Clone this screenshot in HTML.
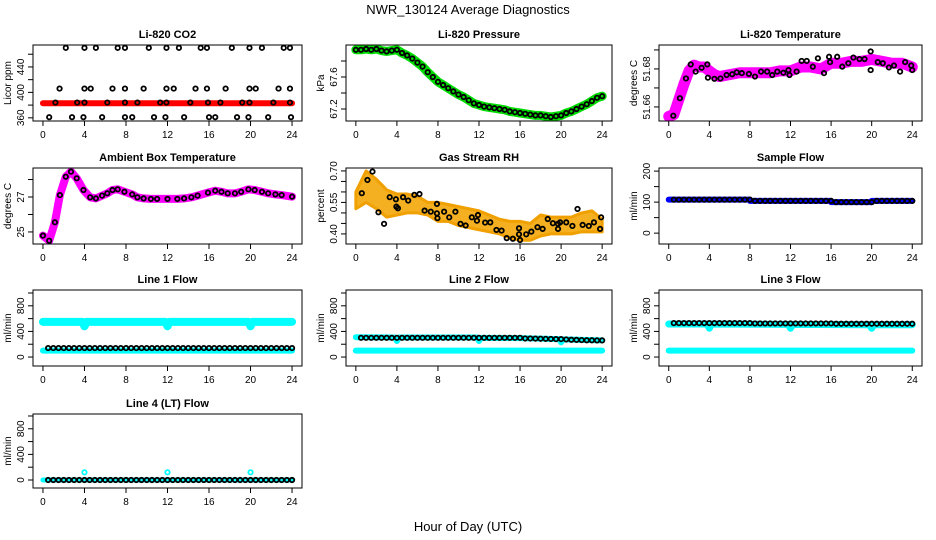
<!DOCTYPE html>
<html><head><meta charset="utf-8"><style>
html,body{margin:0;padding:0;background:#fff}
svg{display:block;font-family:"Liberation Sans",Arial,sans-serif}
</style></head><body>
<svg id="c" width="936" height="540" viewBox="0 0 936 540">
<text x="468" y="14" text-anchor="middle" font-size="13">NWR_130124  Average Diagnostics</text>
<text x="468" y="531" text-anchor="middle" font-size="13">Hour of Day (UTC)</text>
</svg>
<script>
const H = [0.5,1,1.5,2,2.5,3,3.5,4,4.5,5,5.5,6,6.5,7,7.5,8,8.5,9,9.5,10,10.5,11,11.5,12,12.5,13,13.5,14,14.5,15,15.5,16,16.5,17,17.5,18,18.5,19,19.5,20,20.5,21,21.5,22,22.5,23,23.5,24];
const xTicks = [0,4,8,12,16,20,24];

// CO2
const co2X = [2.2,4.0,5.1,7.2,7.9,10.2,11.9,13.1,15.2,15.8,18.2,19.9,21.1,23.2,23.8, 1.6,4.0,4.6,6.7,7.9,9.7,11.9,12.6,14.7,15.8,17.6,19.9,20.5,22.7,23.8, 1.2,3.3,4.0,6.2,7.9,9.1,11.3,11.9,14.2,15.9,17.1,19.2,19.9,22.2,23.8, 0.6,2.8,3.9,5.7,7.9,8.6,10.7,11.8,13.6,16.0,16.6,18.7,19.8,21.7,23.9];
const co2Y = [470,470,470,470,470,470,470,470,470,470,470,470,470,470,470, 406,406,406,406,406,406,406,406,406,406,406,406,406,406,406, 384,384,384,384,384,384,384,384,384,384,384,384,384,384,384, 361,361,361,361,361,361,361,361,361,361,361,361,361,361,361];
const co2BandX = [0,24];
const co2BandY = [383,383];

// Pressure
const presX = [0,0.5,1,1.5,2,2.5,3,3.5,4,4.5,5,5.5,6,6.5,7,7.5,8,8.5,9,9.5,10,10.5,11,11.5,12,12.5,13,13.5,14,14.5,15,15.5,16,16.5,17,17.5,18,18.5,19,19.5,20,20.5,21,21.5,22,22.5,23,23.5,24];
const presY = [67.94,67.94,67.95,67.94,67.95,67.93,67.92,67.93,67.94,67.90,67.87,67.83,67.78,67.73,67.66,67.60,67.54,67.50,67.46,67.42,67.38,67.35,67.31,67.27,67.25,67.23,67.22,67.21,67.20,67.19,67.17,67.16,67.15,67.14,67.13,67.12,67.12,67.11,67.10,67.11,67.12,67.15,67.17,67.20,67.23,67.26,67.30,67.34,67.36];

// Li-820 temperature
const tBandX = [0,0.5,1,1.5,2,2.5,3,3.5,4,4.5,5,6,7,8,9,10,11,12,13,14,15,16,17,18,19,20,21,22,23,24];
const tBandY = [51.655,51.656,51.664,51.672,51.679,51.682,51.681,51.681,51.679,51.677,51.676,51.677,51.678,51.678,51.678,51.678,51.679,51.679,51.681,51.681,51.680,51.683,51.683,51.684,51.684,51.685,51.684,51.683,51.683,51.681];
const tX = [0.45,1.1,1.7,2.17,2.65,3.24,3.8,3.86,4.5,5.1,5.7,6.25,6.7,7.2,7.9,8.5,9.1,9.7,10.2,10.7,11.3,11.8,11.9,12.6,13.1,13.6,14.2,14.7,15.3,15.8,15.9,16.6,17.1,17.7,18.2,18.8,19.3,19.9,19.9,20.6,21.1,21.7,22.2,22.8,23.3,23.9,24.0];
const tY = [51.6554,51.6646,51.675,51.6824,51.6786,51.6806,51.6824,51.6754,51.6748,51.675,51.6768,51.6772,51.6782,51.6778,51.6774,51.676,51.6786,51.6786,51.6768,51.6786,51.678,51.6794,51.6768,51.6786,51.6842,51.6842,51.6812,51.6856,51.6778,51.6864,51.6836,51.6864,51.6812,51.683,51.686,51.6852,51.6852,51.6892,51.6794,51.6836,51.683,51.6808,51.6818,51.6786,51.6836,51.6818,51.6794];

// Ambient box temperature
const aX = [0,0.6,1.15,1.63,2.2,2.7,3.25,3.9,4.55,5.1,5.7,6.2,6.7,7.2,7.85,8.6,9.1,9.7,10.4,11.0,12.0,12.95,13.6,14.3,14.9,15.9,16.6,17.2,17.8,18.5,19.1,19.8,20.4,21.1,21.7,22.4,23.0,24.0];
const aY = [24.79,24.5,25.55,27.11,28.16,28.45,28.07,27.4,26.98,26.92,27.08,27.21,27.4,27.44,27.3,27.15,26.98,26.92,26.89,26.89,26.89,26.89,26.92,26.98,27.08,27.25,27.36,27.3,27.21,27.21,27.3,27.44,27.4,27.3,27.21,27.15,27.11,27.02];

// Gas stream RH
const rhBandX = [0,1,2,3,4,5,6,7,8,9,10,11,12,13,14,15,16,17,18,19,20,21,22,23,24];
const rhLo = [0.52,0.55,0.52,0.48,0.49,0.50,0.50,0.49,0.46,0.46,0.44,0.43,0.42,0.41,0.40,0.38,0.37,0.37,0.39,0.40,0.40,0.40,0.41,0.41,0.41];
const rhHi = [0.60,0.70,0.66,0.61,0.59,0.59,0.58,0.55,0.55,0.54,0.53,0.52,0.51,0.49,0.47,0.46,0.46,0.45,0.49,0.48,0.48,0.48,0.50,0.51,0.47];
const rhX = [0.58,1.13,1.62,2.2,2.75,3.3,3.9,3.95,4.1,4.6,5.1,5.7,6.2,6.7,7.3,7.9,7.9,7.95,8.6,9.1,9.7,10.2,10.7,11.3,11.8,11.9,12.6,13.1,13.7,14.2,14.7,15.3,15.9,15.9,16.0,16.6,17.1,17.7,18.2,18.7,19.2,19.7,19.7,19.9,20.5,21.1,21.6,22.1,22.7,23.2,23.8,23.9];
const rhY = [0.594,0.657,0.697,0.503,0.448,0.575,0.565,0.53,0.522,0.575,0.559,0.586,0.59,0.511,0.506,0.543,0.498,0.475,0.506,0.479,0.506,0.448,0.44,0.479,0.463,0.49,0.454,0.455,0.419,0.416,0.38,0.377,0.427,0.398,0.371,0.398,0.411,0.432,0.424,0.471,0.451,0.448,0.424,0.455,0.455,0.438,0.519,0.443,0.438,0.455,0.424,0.479];

// Flows (black = averages, cyan/blue = raw)
const sampleY = [108,108,108,108,108,108,108,108,108,108,108,108,108,108,108,108,104,104,104,104,104,104,104,104,104,104,104,104,104,104,104,104,100,100,100,100,100,100,100,100,104,104,104,104,104,104,104,104];
const sampleBandX = [0,8,8.01,16,16.01,20,20.01,24];
const sampleBandY = [108,108,104,104,100,100,104,104];
const line1Y = [140,140,140,140,140,140,140,140,140,140,140,140,140,140,140,140,140,140,140,140,140,140,140,140,140,140,140,140,140,140,140,140,140,140,140,140,140,140,140,140,140,140,140,140,140,140,140,140];
const line2Y = [300,300,300,300,300,300,300,300,300,300,300,300,300,300,300,300,300,300,300,300,300,300,300,300,300,300,300,300,300,300,300,300,290,290,288,286,284,282,280,280,275,270,268,265,262,262,260,260];
const line3Y = [530,530,530,530,530,530,530,530,530,530,530,530,530,530,530,530,525,525,525,525,525,525,525,525,525,525,525,525,525,525,525,525,520,520,520,520,520,520,520,520,520,520,520,520,520,520,520,520];
const line4Y = [0,0,0,0,0,0,0,0,0,0,0,0,0,0,0,0,0,0,0,0,0,0,0,0,0,0,0,0,0,0,0,0,0,0,0,0,0,0,0,0,0,0,0,0,0,0,0,0];
const l1UpX = [0,3.8,4,4.2,11.8,12,12.2,19.8,20,20.2,24];
const l1UpY = [550,550,480,550,550,480,550,550,480,550,550];
const l2UpX = [0,3.8,4,4.2,11.8,12,12.2,16,19.8,20,20.2,24];
const l2UpY = [310,305,250,305,305,250,300,295,280,230,275,260];
const l3UpX = [0,3.8,4,4.2,11.8,12,12.2,19.8,20,20.2,24];
const l3UpY = [515,515,450,515,510,450,510,505,450,505,505];
const lowX = [0,24];
const lowY = [100,100];
const l4SpikeX = [4,12,20];
const l4SpikeY = [120,120,120];

const NS = "http://www.w3.org/2000/svg";
const svg = document.getElementById('c');
function mk(tag, attrs, parent){
  const e = document.createElementNS(NS, tag);
  for (const k in attrs) e.setAttribute(k, attrs[k]);
  (parent||svg).appendChild(e);
  return e;
}
const cols = [[33,302],[346,612],[659,922]];
const rows = [[45,121],[168,244],[290,366],[414,488]];

function panel(o){
  const [x0,x1] = cols[o.c], [y0,y1] = rows[o.r];
  const g = mk('g', {});
  
  
  const sx = h => x0 + (h + 0.96) / 25.92 * (x1 - x0);
  const sy = v => y1 - (v - o.ylim[0]) / (o.ylim[1] - o.ylim[0]) * (y1 - y0);
  const t = mk('text', {x:(x0+x1)/2, y:y0-7, 'text-anchor':'middle', 'font-size':11, 'font-weight':'bold'}, g);
  t.textContent = o.title;
  
  
  const yl = mk('text', {x:0, y:0, transform:`translate(${x0-22},${(y0+y1)/2}) rotate(-90)`, 'text-anchor':'middle', 'font-size':10}, g);
  yl.textContent = o.ylab;
  
  
  const cid = 'clip' + o.r + o.c;
  const cp = mk('clipPath', {id:cid}, g);
  mk('rect', {x:x0, y:y0, width:x1-x0, height:y1-y0}, cp);
  const data = mk('g', {'clip-path':`url(#${cid})`}, g);
  
  
  (o.areas||[]).forEach(a => {
    let pts = a.x.map((h,i)=>sx(h)+','+sy(a.hi[i]));
    pts = pts.concat(a.x.map((h,i)=>sx(h)+','+sy(a.lo[i])).reverse());
    const p = mk('polygon', {points:pts.join(' '), fill:a.color, stroke:a.stroke, 'stroke-width':3, 'stroke-linejoin':'round'}, data);
    
    
  });
  (o.bands||[]).forEach(b => {
    const p = mk('polyline', {points:b.x.map((h,i)=>sx(h)+','+sy(b.y[i])).join(' '), fill:'none', stroke:b.color, 'stroke-width':b.w, 'stroke-linecap':'round', 'stroke-linejoin':'round'}, data);
    
    
  });
  (o.pts||[]).forEach(s => {
    s.x.forEach((h,i) => {
      const c = mk('circle', {cx:sx(h), cy:sy(s.y[i]), r:s.r||2.2, fill:'none', stroke:s.color, 'stroke-width':s.sw||1.8}, data);
      
      
    });
  });
  const fr = mk('rect', {x:x0, y:y0, width:x1-x0, height:y1-y0, fill:'none', stroke:'#000', 'stroke-width':1}, g);
  
  
  xTicks.forEach(h => {
    mk('line', {x1:sx(h), x2:sx(h), y1:y1, y2:y1+5, stroke:'#000'}, g);
    const tl = mk('text', {x:sx(h), y:y1+17, 'text-anchor':'middle', 'font-size':10}, g);
    tl.textContent = h;
    
    
  });
  o.yticks.forEach(v => mk('line', {x1:x0-5, x2:x0, y1:sy(v), y2:sy(v), stroke:'#000'}, g));
  o.ylabels.forEach(v => {
    const tl = mk('text', {x:0, y:0, transform:`translate(${x0-9},${sy(v)}) rotate(-90)`, 'text-anchor':'middle', 'font-size':10}, g);
    tl.textContent = o.fmt ? o.fmt(v) : v;
    
    
  });
}

const flowTicks = [0,200,400,600,800,1000];
const flowLabels = [0,400,800];

panel({name:'panel-co2', r:0, c:0, title:'Li-820 CO2', ylab:'Licor ppm', ylim:[355,474.5],
  yticks:[360,380,400,420,440,460], ylabels:[360,400,440],
  bands:[{x:co2BandX, y:co2BandY, color:'#ff0000', w:6}],
  pts:[{x:co2X, y:co2Y, color:'#000'}]});
panel({name:'panel-pressure', r:0, c:1, title:'Li-820 Pressure', ylab:'kPa', ylim:[67.05,68.0],
  yticks:[67.2,67.4,67.6,67.8], ylabels:[67.2,67.6], fmt:v=>v.toFixed(1),
  bands:[{x:presX, y:presY, color:'#00dd00', w:9}],
  pts:[{x:presX, y:presY, color:'#000'}]});
panel({name:'panel-li820-temperature', r:0, c:2, title:'Li-820 Temperature', ylab:'degrees C', ylim:[51.6526,51.6926],
  yticks:[51.66,51.67,51.68,51.69], ylabels:[51.66,51.68], fmt:v=>v.toFixed(2),
  bands:[{x:tBandX, y:tBandY, color:'#ff00ff', w:11}],
  pts:[{x:tX, y:tY, color:'#000'}]});
panel({name:'panel-ambient-temperature', r:1, c:0, title:'Ambient Box Temperature', ylab:'degrees C', ylim:[24.31,28.66],
  yticks:[25,26,27,28], ylabels:[25,27],
  bands:[{x:aX, y:aY, color:'#ff00ff', w:8}],
  pts:[{x:aX, y:aY, color:'#000'}]});
panel({name:'panel-gas-rh', r:1, c:1, title:'Gas Stream RH', ylab:'percent', ylim:[0.352,0.714],
  yticks:[0.40,0.45,0.50,0.55,0.60,0.65,0.70], ylabels:[0.40,0.55,0.70], fmt:v=>v.toFixed(2),
  areas:[{x:rhBandX, lo:rhLo, hi:rhHi, color:'#f4b020', stroke:'#f0a000'}],
  pts:[{x:rhX, y:rhY, color:'#000'}]});
panel({name:'panel-sample-flow', r:1, c:2, title:'Sample Flow', ylab:'ml/min', ylim:[-35,210],
  yticks:[0,50,100,150,200], ylabels:[0,100,200],
  bands:[{x:sampleBandX, y:sampleBandY, color:'#0000ff', w:6}],
  pts:[{x:H, y:sampleY, color:'#000'}]});
panel({name:'panel-line1-flow', r:2, c:0, title:'Line 1 Flow', ylab:'ml/min', ylim:[-140,1047],
  yticks:flowTicks, ylabels:flowLabels,
  bands:[{x:l1UpX, y:l1UpY, color:'#00ffff', w:8},{x:lowX, y:lowY, color:'#00ffff', w:6}],
  pts:[{x:H, y:line1Y, color:'#000'}]});
panel({name:'panel-line2-flow', r:2, c:1, title:'Line 2 Flow', ylab:'ml/min', ylim:[-140,1047],
  yticks:flowTicks, ylabels:flowLabels,
  bands:[{x:l2UpX, y:l2UpY, color:'#00ffff', w:6},{x:lowX, y:lowY, color:'#00ffff', w:6}],
  pts:[{x:H, y:line2Y, color:'#000'}]});
panel({name:'panel-line3-flow', r:2, c:2, title:'Line 3 Flow', ylab:'ml/min', ylim:[-140,1047],
  yticks:flowTicks, ylabels:flowLabels,
  bands:[{x:l3UpX, y:l3UpY, color:'#00ffff', w:7},{x:lowX, y:lowY, color:'#00ffff', w:6}],
  pts:[{x:H, y:line3Y, color:'#000'}]});
panel({name:'panel-line4-flow', r:3, c:0, title:'Line 4 (LT) Flow', ylab:'ml/min', ylim:[-125,1031],
  yticks:flowTicks, ylabels:flowLabels,
  bands:[{x:lowX, y:[0,0], color:'#00ffff', w:5}],
  pts:[{x:l4SpikeX, y:l4SpikeY, color:'#00ffff'},{x:H, y:line4Y, color:'#000'}]});
</script>
</body></html>
